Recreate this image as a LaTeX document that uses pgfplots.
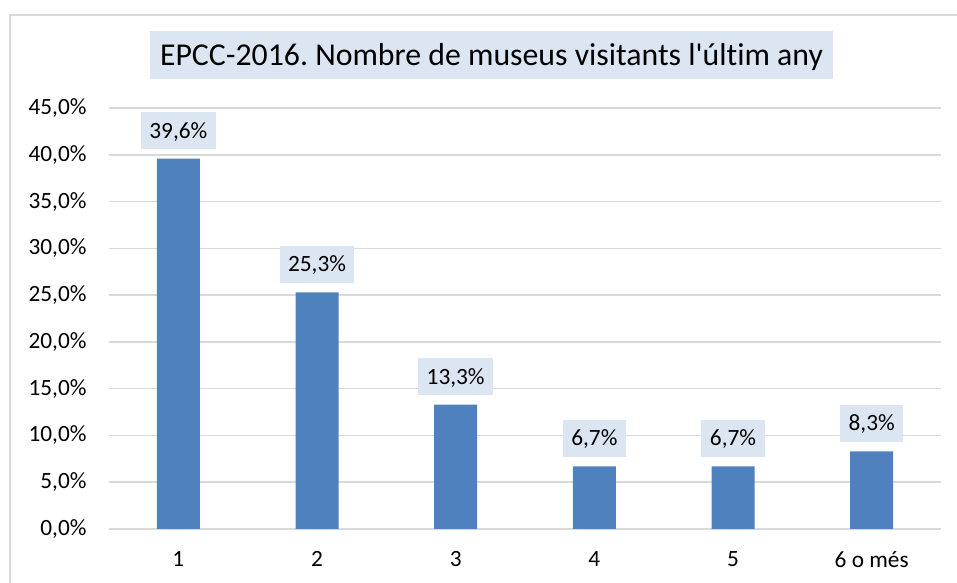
\documentclass[border=0pt]{standalone}
\usepackage{pgfplots}
\pgfplotsset{compat=1.18}
\usepackage{fontspec}
\setmainfont{Carlito}
\newfontfamily\plainfont{Carlito}[Ligatures={NoCommon,NoRequired}]
\frenchspacing
\definecolor{barblue}{HTML}{4F81BD}
\definecolor{labelbg}{HTML}{DCE6F2}
\definecolor{gridgray}{HTML}{D9D9D9}
\definecolor{framegray}{HTML}{D9D9D9}
\newcommand{\tickfont}{\plainfont\fontsize{23.3bp}{28bp}\selectfont}
\newcommand{\titlefont}{\plainfont\fontsize{31.8bp}{38bp}\selectfont}
\begin{document}
\begin{tikzpicture}[x=1bp,y=1bp]
\useasboundingbox (0,0) rectangle (957,583);
\draw[framegray, line width=1.3bp] (10,-20) -- (10,568) -- (980,568);
\node[fill=labelbg, minimum width=683bp, inner xsep=0pt, text height=20.6bp, text depth=0bp, inner ysep=13.7bp, font=\titlefont] at (491.5,528) {EPCC-2016. Nombre de museus visitants l'últim any};
\begin{axis}[
  at={(109bp,54bp)}, anchor=south west,
  scale only axis, width=832bp, height=421bp,
  xmin=-0.5, xmax=5.5, ymin=0, ymax=45,
  ytick={0,5,...,45},
  xtick={0,1,2,3,4,5},
  xticklabels={1,2,3,4,5,6 o més},
  axis line style={draw=none},
  major tick length=0pt,
  ymajorgrids, grid style={gridgray, line width=1.5bp},
  /pgf/number format/assume math mode=true,
  yticklabel={\pgfmathprintnumber[fixed,fixed zerofill,precision=1,use comma]{\tick}\%},
  yticklabel style={font=\tickfont, xshift=-19bp},
  xticklabel style={font=\tickfont, yshift=-19bp},
  ybar, bar width=43bp,
  nodes near coords={\pgfmathprintnumber[fixed,fixed zerofill,precision=1,use comma]{\pgfplotspointmeta}\%},
  nodes near coords style={font=\tickfont, fill=labelbg, anchor=south, yshift=9bp, inner xsep=8.5bp, text height=14.7bp, text depth=0bp, inner ysep=11.15bp, text=black},
]
\addplot[fill=barblue, draw=none] coordinates {(0,39.6) (1,25.3) (2,13.3) (3,6.7) (4,6.7) (5,8.3)};
\end{axis}
\end{tikzpicture}
\end{document}
